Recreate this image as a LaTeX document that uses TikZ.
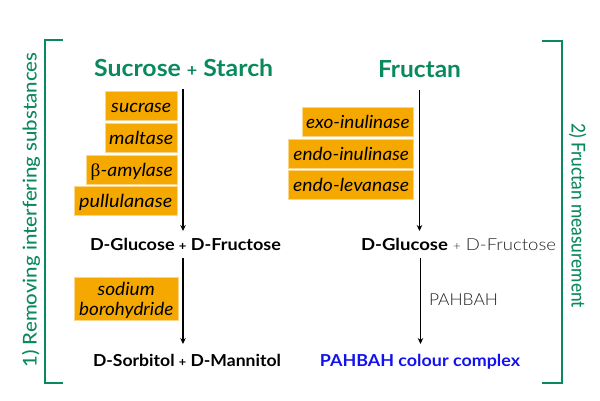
\documentclass[tikz,border=0pt]{standalone}
\usepackage{fontspec}
\usepackage{graphicx}
\usetikzlibrary{arrows.meta}
\setmainfont{Lato}
\newfontfamily\lightfont{Lato Light}
\newfontfamily\medfont{Lato Medium}
\newfontfamily\grkfont{Liberation Serif}
\definecolor{ourgreen}{HTML}{0A8A5C}
\definecolor{ourorange}{HTML}{F5A800}
\definecolor{ouredge}{HTML}{FBD68A}
\definecolor{ourblue}{HTML}{1212F0}
\definecolor{ourgrey}{HTML}{202020}
\newcommand{\fitw}[2]{\resizebox{#1pt}{\height}{#2}}
\newcommand{\fsz}[1]{\fontsize{#1}{#1}\selectfont}
\tikzset{
  every node/.style={inner sep=0pt, outer sep=0pt},
  enzymebase/.style={fill=ourorange, draw=ouredge, line width=0.5pt, text=black, font=\fsz{18}\itshape, align=center},
  enzyme/.style={enzymebase, text height=16pt, text depth=2.6pt},
  titletext/.style={anchor=base, text=ourgreen, font=\fsz{23.5}\bfseries, text height=15pt, text depth=0pt},
  chem/.style={anchor=base, text=black, font=\fsz{16.5}\bfseries, text height=11pt, text depth=0pt},
  lighttext/.style={chem, text=ourgrey, font=\fsz{16.5}\lightfont},
  sidelabel/.style={anchor=base, text=ourgreen, font=\fsz{19}\medfont},
  flow/.style={draw=black, line width=1.2pt, -{Stealth[length=6pt,width=5.5pt]}},
  brace/.style={draw=ourgreen, line width=1.1pt},
}
\begin{document}
\begin{tikzpicture}[x=1pt,y=-1pt]
\useasboundingbox (0,0) rectangle (600,400);
% titles
\node[titletext] (sucst) at (183.7,76.7) {\fitw{179}{Sucrose {\fsz{17}+} Starch}};
\node[titletext] (fruc) at (419.5,77.7) {\fitw{83}{Fructan}};
% left enzymes
\node[enzyme, minimum width=72.5pt, minimum height=29.7pt] (sucrase) at (141.25,105.85) {\fitw{60}{sucrase}};
\node[enzyme, minimum width=72.5pt, minimum height=29pt] (maltase) at (141.25,138) {\fitw{64}{maltase}};
\node[enzyme, minimum width=91.5pt, minimum height=29.5pt] (amylase) at (131.75,169.75) {\fitw{82}{{\grkfont\upshape β}-amylase}};
\node[enzyme, minimum width=103.5pt, minimum height=29pt] (pull) at (125.75,200.5) {\fitw{93}{pullulanase}};
\node[enzymebase, minimum width=104.5pt, minimum height=43pt] (boro) at (126.25,299.2) {\rule{0pt}{16pt}\fitw{57}{sodium}\\[2pt]\rule[-2.4pt]{0pt}{2.4pt}\fitw{94}{borohydride}};
% right enzymes
\node[enzyme, minimum width=111.7pt, minimum height=29.5pt] (exo) at (357.85,121.75) {\fitw{103.5}{exo-inulinase}};
\node[enzyme, minimum width=125pt, minimum height=29pt] (endoi) at (351.2,153.5) {\fitw{115.5}{endo-inulinase}};
\node[enzyme, minimum width=125pt, minimum height=28.8pt] (endol) at (351.2,185.1) {\fitw{116}{endo-levanase}};
% products
\node[chem] (glu) at (185.5,250.5) {\fitw{191}{D-Glucose {\fsz{12}+} D-Fructose}};
\node[chem] (sor) at (187,366.7) {\fitw{188}{D-Sorbitol {\fsz{12}+} D-Mannitol}};
\node[chem] (gluR) at (404.5,250.5) {\fitw{87}{D-Glucose}};
\node[lighttext] (fruR) at (504.5,250.5) {\fitw{103}{{\fsz{12}+} D-Fructose}};
\node[chem, text=ourblue] (complex) at (420,366.7) {\fitw{200}{PAHBAH colour complex}};
\node[lighttext] (pah) at (463.5,305) {\fitw{69}{PAHBAH}};
% side labels
\node[sidelabel, rotate=90] (lab1) at (36.7,210) {\fitw{315}{1) Removing interfering substances}};
\node[sidelabel, rotate=-90] (lab2) at (571.7,215.5) {\fitw{185}{2) Fructan measurement}};
% brackets
\draw[brace] (63,40) -- (45,40) -- (45,383) -- (63,383);
\draw[brace] (542,41) -- (562,41) -- (562,383) -- (542,383);
% arrows
\draw[flow] ([shift={(-0.7,12.3)}]sucst.south) -- ([shift={(-2.5,-8.5)}]glu.north);
\draw[flow] ([shift={(-2.5,7.5)}]glu.south) -- ([shift={(-4,-11.7)}]sor.north);
\draw[flow] ([shift={(0,12.3)}]fruc.south) -- ([shift={(15,-8.5)}]gluR.north);
\draw[flow] ([shift={(16,7.5)}]gluR.south) -- ([shift={(0.5,-11.7)}]complex.north);
\end{tikzpicture}
\end{document}
